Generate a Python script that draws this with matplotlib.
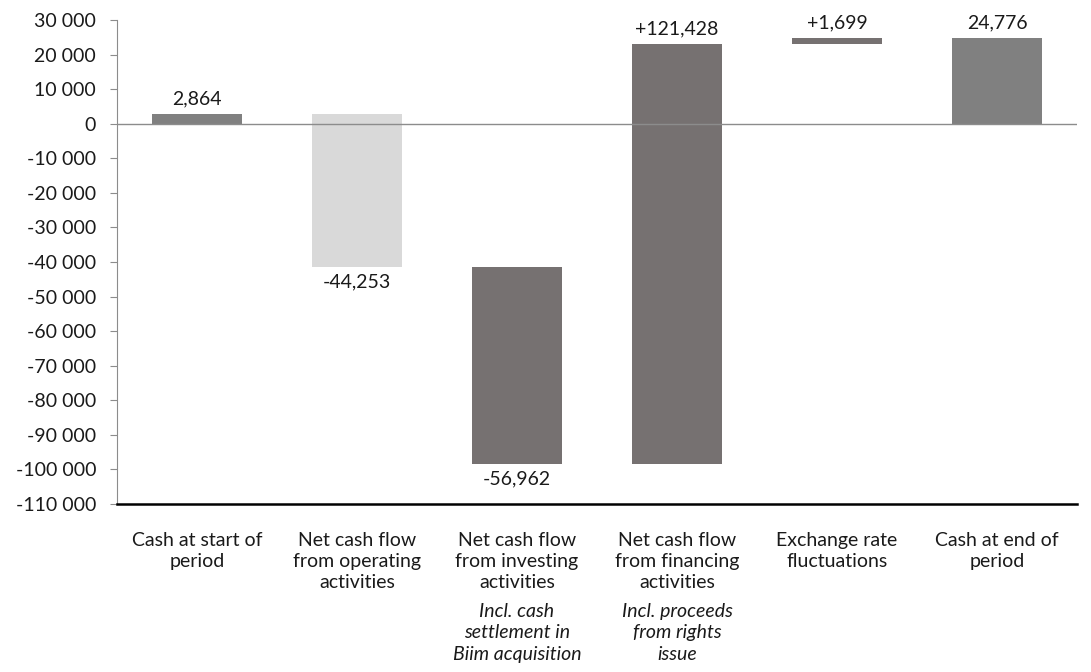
import matplotlib
matplotlib.use("Agg")
from matplotlib import pyplot as plt
from matplotlib.ticker import FuncFormatter

categorias = ["Cash at start of\nperiod",
              "Net cash flow\nfrom operating\nactivities",
              "Net cash flow\nfrom investing\nactivities",
              "Net cash flow\nfrom financing\nactivities",
              "Exchange rate\nfluctuations",
              "Cash at end of\nperiod"]
variacoes = [2864, -44253, -56962, 121428, 1699, 24776]
rotulos = ["2,864", "-44,253", "-56,962", "+121,428", "+1,699", "24,776"]
notas = ["", "", "Incl. cash\nsettlement in\nBiim acquisition", "Incl. proceeds\nfrom rights\nissue", "", ""]
totais = [True, False, False, False, False, True]
cores = ["#808080", "#d9d9d9", "#767171", "#767171", "#767171", "#808080"]

plt.rcParams["font.family"] = ["Lato", "DejaVu Sans"]
fs = 14

fig = plt.figure(figsize=(10.91, 6.72), dpi=100)
ax = fig.add_axes([117 / 1091, 1 - 504 / 672, (1077 - 117) / 1091, (504 - 20) / 672])

acumulado = 0
x = list(range(len(categorias)))
for i, v in enumerate(variacoes):
    if totais[i]:
        base = 0
        topo = v
        acumulado = v
    else:
        base = acumulado
        topo = acumulado + v
        acumulado = topo
    baixo, alto = min(base, topo), max(base, topo)
    ax.bar(i, alto - baixo, bottom=baixo, width=0.56, color=cores[i])
    if v >= 0:
        ax.text(i, alto + 1800, rotulos[i], ha="center", va="bottom", fontsize=fs, color="#1a1a1a")
    else:
        ax.text(i, baixo - 1800, rotulos[i], ha="center", va="top", fontsize=fs, color="#1a1a1a")

ax.axhline(0, color="#8c8c8c", linewidth=1)
ax.set_ylim(-110000, 30000)
ax.set_xlim(-0.5, len(categorias) - 0.5)
ax.set_yticks(range(-110000, 30001, 10000))
ax.yaxis.set_major_formatter(FuncFormatter(lambda v, p: f"{int(v):,}".replace(",", " ")))
ax.tick_params(axis="y", labelsize=fs, colors="#8c8c8c", labelcolor="#1a1a1a", length=5, pad=10)
ax.set_xticks(x)
ax.set_xticklabels(categorias, fontsize=fs, color="#1a1a1a", linespacing=1.3)
ax.tick_params(axis="x", length=0, pad=20)

for s in ["top", "right"]:
    ax.spines[s].set_visible(False)
ax.spines["left"].set_color("#8c8c8c")
ax.spines["bottom"].set_color("black")
ax.spines["bottom"].set_linewidth(1.8)

for i, n in enumerate(notas):
    if n:
        ax.text(i, -0.205, n, transform=ax.get_xaxis_transform(), ha="center", va="top",
                fontsize=fs, style="italic", color="#1a1a1a", linespacing=1.3)

fig.savefig("out.png", dpi=100)
